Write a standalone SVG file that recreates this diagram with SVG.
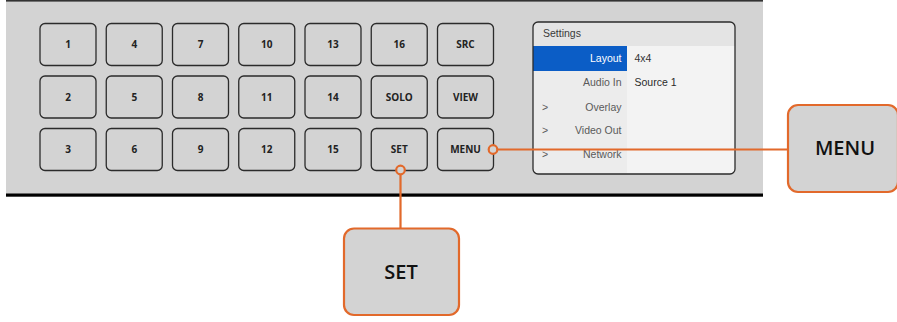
<svg xmlns="http://www.w3.org/2000/svg" width="897" height="322" viewBox="0 0 897 322">
<style>
.btn rect{fill:#d3d3d3;stroke:#2b2b2b;stroke-width:1.3}
.btn text{font-family:"Open Sans","Liberation Sans",sans-serif;font-weight:700;font-size:10px;fill:#222;text-anchor:middle}
.scr{font-family:"Liberation Sans",Arial,sans-serif;font-size:10.5px}
.lab{fill:#5a5a5a;text-anchor:end}
.chev{fill:#5a5a5a}
.wire{stroke:#e2692b;stroke-width:2.2;fill:none}
.dot{stroke:#e2692b;stroke-width:2.2;fill:#d3d3d3}
.call rect{fill:#d3d3d3;stroke:#e2692b;stroke-width:2.2}
.call text{font-family:"Open Sans","Liberation Sans",sans-serif;font-weight:600;font-size:20px;fill:#111;text-anchor:middle}
</style>
<defs>
<clipPath id="scrClip"><rect x="533" y="22" width="202" height="152" rx="5"/></clipPath>
</defs>
<rect width="897" height="322" fill="#ffffff"/>
<g id="panel">
<rect x="6" y="0" width="757" height="194" fill="#d3d3d3"/>
<rect x="6" y="0" width="757" height="1.6" fill="#333"/>
<rect x="6" y="193.5" width="757" height="3.2" fill="#000"/>
</g>
<g id="btn-1" class="btn"><rect x="40" y="23.5" width="56" height="42" rx="5"/><text x="68" y="48">1</text></g>
<g id="btn-4" class="btn"><rect x="106.25" y="23.5" width="56" height="42" rx="5"/><text x="134.25" y="48">4</text></g>
<g id="btn-7" class="btn"><rect x="172.5" y="23.5" width="56" height="42" rx="5"/><text x="200.5" y="48">7</text></g>
<g id="btn-10" class="btn"><rect x="238.75" y="23.5" width="56" height="42" rx="5"/><text x="266.75" y="48">10</text></g>
<g id="btn-13" class="btn"><rect x="305" y="23.5" width="56" height="42" rx="5"/><text x="333" y="48">13</text></g>
<g id="btn-16" class="btn"><rect x="371.25" y="23.5" width="56" height="42" rx="5"/><text x="399.25" y="48">16</text></g>
<g id="btn-src" class="btn"><rect x="437.5" y="23.5" width="56" height="42" rx="5"/><text x="465.5" y="48">SRC</text></g>
<g id="btn-2" class="btn"><rect x="40" y="76" width="56" height="42" rx="5"/><text x="68" y="100.5">2</text></g>
<g id="btn-5" class="btn"><rect x="106.25" y="76" width="56" height="42" rx="5"/><text x="134.25" y="100.5">5</text></g>
<g id="btn-8" class="btn"><rect x="172.5" y="76" width="56" height="42" rx="5"/><text x="200.5" y="100.5">8</text></g>
<g id="btn-11" class="btn"><rect x="238.75" y="76" width="56" height="42" rx="5"/><text x="266.75" y="100.5">11</text></g>
<g id="btn-14" class="btn"><rect x="305" y="76" width="56" height="42" rx="5"/><text x="333" y="100.5">14</text></g>
<g id="btn-solo" class="btn"><rect x="371.25" y="76" width="56" height="42" rx="5"/><text x="399.25" y="100.5">SOLO</text></g>
<g id="btn-view" class="btn"><rect x="437.5" y="76" width="56" height="42" rx="5"/><text x="465.5" y="100.5">VIEW</text></g>
<g id="btn-3" class="btn"><rect x="40" y="128.5" width="56" height="42" rx="5"/><text x="68" y="153">3</text></g>
<g id="btn-6" class="btn"><rect x="106.25" y="128.5" width="56" height="42" rx="5"/><text x="134.25" y="153">6</text></g>
<g id="btn-9" class="btn"><rect x="172.5" y="128.5" width="56" height="42" rx="5"/><text x="200.5" y="153">9</text></g>
<g id="btn-12" class="btn"><rect x="238.75" y="128.5" width="56" height="42" rx="5"/><text x="266.75" y="153">12</text></g>
<g id="btn-15" class="btn"><rect x="305" y="128.5" width="56" height="42" rx="5"/><text x="333" y="153">15</text></g>
<g id="btn-set" class="btn"><rect x="371.25" y="128.5" width="56" height="42" rx="5"/><text x="399.25" y="153">SET</text></g>
<g id="btn-menu" class="btn"><rect x="437.5" y="128.5" width="56" height="42" rx="5"/><text x="465.5" y="153">MENU</text></g>
<g id="screen">
<g clip-path="url(#scrClip)">
<rect x="533" y="22" width="202" height="152" fill="#ececec"/>
<rect x="533" y="22" width="202" height="24" fill="#e4e4e4"/>
<rect x="627" y="46" width="108" height="128" fill="#f3f3f3"/>
<rect x="533" y="46" width="94" height="25" fill="#0b5dc6"/>
</g>
<rect x="533" y="22" width="202" height="152" rx="5" fill="none" stroke="#2b2b2b" stroke-width="1.3"/>
<text class="scr" x="543" y="37" font-size="11.5" fill="#3a3a3a">Settings</text>
<text class="scr" x="621.5" y="62" fill="#ffffff" text-anchor="end">Layout</text>
<text class="scr" x="634.5" y="62" fill="#333">4x4</text>
<text class="scr lab" x="621.5" y="86">Audio In</text>
<text class="scr" x="634.5" y="86" font-size="12.5" fill="#2a2a2a">Source 1</text>
<text class="scr chev" x="542" y="110.5">&gt;</text>
<text class="scr lab" x="621.5" y="110.5">Overlay</text>
<text class="scr chev" x="542" y="134">&gt;</text>
<text class="scr lab" x="621.5" y="134">Video Out</text>
<text class="scr chev" x="542" y="158">&gt;</text>
<text class="scr lab" x="621.5" y="158">Network</text>
</g>
<g id="connectors">
<line class="wire" x1="497.5" y1="149.5" x2="789" y2="149.5"/>
<circle class="dot" cx="493" cy="149.5" r="4.3"/>
<line class="wire" x1="400.5" y1="174.3" x2="400.5" y2="229"/>
<circle class="dot" cx="400.5" cy="170" r="4.3"/>
</g>
<g id="callout-set" class="call"><rect x="344" y="228.5" width="115" height="86.5" rx="10"/><text x="401" y="278.5">SET</text></g>
<g id="callout-menu" class="call"><rect x="788" y="105" width="110" height="87" rx="10"/><text x="845" y="155">MENU</text></g>
</svg>
